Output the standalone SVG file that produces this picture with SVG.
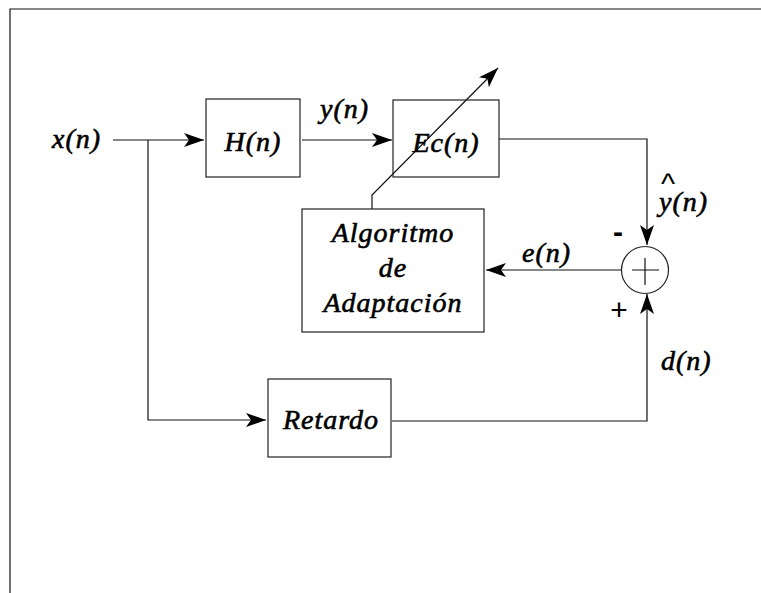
<svg xmlns="http://www.w3.org/2000/svg" width="761" height="593" viewBox="0 0 761 593">
<style>
.ln{stroke:#111;stroke-width:1.2;fill:none}
.bx{stroke:#222;stroke-width:1.2;fill:none}
.t{font-family:"Liberation Serif","Times New Roman",serif;font-style:italic;font-size:28px;fill:#000;stroke:#000;stroke-width:0.6;letter-spacing:1px}
.s{font-family:"Liberation Sans",Arial,sans-serif;font-size:30px;fill:#000}
</style>
<defs>
<marker id="ah" markerUnits="userSpaceOnUse" markerWidth="22" markerHeight="16" refX="20" refY="7" orient="auto">
<path d="M0,0 L20,7 L0,14 L5,7 z" fill="#000"/>
</marker>
</defs>
<rect width="761" height="593" fill="#fff"/>
<g id="frame">
<path class="ln" d="M761,9 L10,9 L10,593" stroke-width="1.6"/>
</g>
<g id="connectors">
<path class="ln" d="M113,140 L204,140" marker-end="url(#ah)"/>
<path class="ln" d="M148,140 L148,420 L266,420" marker-end="url(#ah)"/>
<path class="ln" d="M302,140 L392,140" marker-end="url(#ah)"/>
<path class="ln" d="M499,139 L647,139 L647,245" marker-end="url(#ah)"/>
<path class="ln" d="M392,421 L647,421 L647,294" marker-end="url(#ah)"/>
<path class="ln" d="M621,270 L486,270" marker-end="url(#ah)"/>
<path class="ln" d="M372,209 L372,195 L498,68" marker-end="url(#ah)"/>
</g>
<g id="label-x">
<text class="t" x="52" y="148">x(n)</text>
</g>
<g id="H">
<rect class="bx" x="206" y="99" width="94" height="78"/>
<text class="t" x="253" y="151" text-anchor="middle">H(n)</text>
</g>
<g id="label-y">
<text class="t" x="320" y="118">y(n)</text>
</g>
<g id="Ec">
<rect class="bx" x="393" y="100" width="106" height="77"/>
<text class="t" x="446" y="152" text-anchor="middle">Ec(n)</text>
</g>
<g id="Algoritmo">
<rect class="bx" x="302" y="209" width="182" height="123"/>
<text class="t" x="393" y="242" text-anchor="middle" letter-spacing="2">Algoritmo</text>
<text class="t" x="393" y="277" text-anchor="middle" letter-spacing="2">de</text>
<text class="t" x="393" y="312" text-anchor="middle" letter-spacing="2">Adaptación</text>
</g>
<g id="sum">
<circle class="bx" cx="645" cy="270" r="23.5"/>
<path class="ln" d="M632,270 L659,270 M645,258 L645,285" stroke-width="1"/>
<text class="s" x="618" y="242" text-anchor="middle" font-weight="bold">-</text>
<text class="s" x="619" y="320" text-anchor="middle">+</text>
</g>
<g id="label-yhat">
<text class="t" x="659" y="211">y(n)</text>
<text class="s" x="668" y="194" text-anchor="middle" font-size="22">^</text>
</g>
<g id="label-e">
<text class="t" x="522" y="262">e(n)</text>
</g>
<g id="label-d">
<text class="t" x="661" y="370">d(n)</text>
</g>
<g id="Retardo">
<rect class="bx" x="268" y="379" width="123" height="78"/>
<text class="t" x="331" y="429" text-anchor="middle">Retardo</text>
</g>
</svg>
